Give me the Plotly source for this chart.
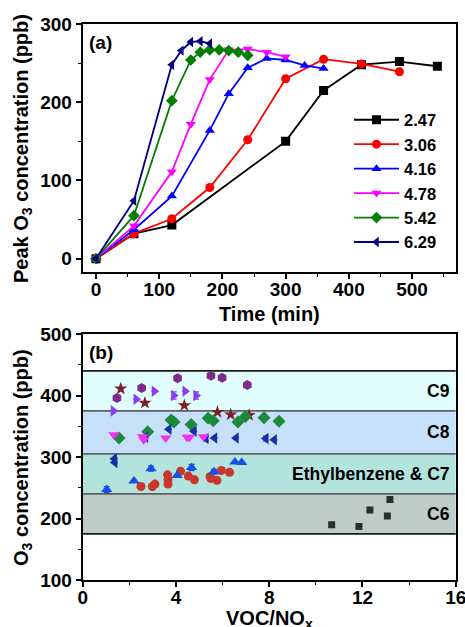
import plotly.graph_objects as go

# ---------------- Panel (a): peak O3 vs time for several VOC/NOx ratios ----------------
ratio_labels = ["2.47", "3.06", "4.16", "4.78", "5.42", "6.29"]

t_247 = [0, 60, 120, 300, 360, 420, 480, 540]
o3_247 = [0, 32, 43, 150, 215, 248, 252, 246]

t_306 = [0, 60, 120, 180, 240, 300, 360, 420, 480]
o3_306 = [0, 32, 51, 91, 152, 230, 255, 249, 239]

t_416 = [0, 60, 120, 180, 210, 240, 270, 300, 330, 360]
o3_416 = [0, 37, 80, 164, 211, 244, 256, 254, 247, 243]

t_478 = [0, 60, 120, 150, 180, 210, 240, 270, 300]
o3_478 = [0, 42, 111, 172, 229, 267, 268, 264, 258]

t_542 = [0, 60, 120, 150, 165, 180, 195, 210, 225, 240]
o3_542 = [0, 55, 202, 254, 264, 267, 267, 266, 264, 260]

t_629 = [0, 60, 120, 135, 150, 165, 180]
o3_629 = [0, 74, 248, 266, 277, 278, 275]

# ---------------- Panel (b): O3 vs VOC/NOx by VOC group ----------------
c9_circle_x = [1.47, 2.53, 4.07, 5.50, 5.98, 7.06]
c9_circle_y = [396, 412, 428, 432, 429, 417]

c9_star_x = [1.63, 2.67, 4.36, 5.78, 6.35, 7.14]
c9_star_y = [411, 388, 384, 373, 369, 368]

c9_tri_x = [1.31, 2.29, 3.07, 3.90, 4.39, 4.86]
c9_tri_y = [375, 394, 407, 400, 407, 400]
c9_tri_err = [0, 0, 0, 6, 0, 6]

c8_diamond_x = [1.56, 2.79, 3.79, 3.92, 4.65, 5.38, 5.60, 6.66, 6.98, 7.78, 8.42]
c8_diamond_y = [331, 341, 360, 357, 353, 363, 359, 357, 366, 364, 358]
c8_diamond_err = [0, 0, 4, 0, 0, 0, 0, 0, 0, 3, 0]

c8_left_x = [1.36, 1.38, 2.70, 3.70, 4.78, 5.29, 5.66, 6.58, 7.86, 8.22]
c8_left_y = [297, 291, 332, 345, 342, 330, 331, 331, 330, 328]
c8_left_err = [0, 0, 0, 0, 0, 4, 0, 0, 4, 0]

c8_down_x = [1.34, 2.58, 2.62, 3.56, 4.48, 4.58, 5.18]
c8_down_y = [336, 333, 328, 331, 332, 332, 333]

c7_circle_x = [2.50, 2.99, 3.10, 3.64, 3.66, 3.66, 4.20, 4.53, 4.79, 5.46, 5.50, 5.76, 5.95, 6.30]
c7_circle_y = [252, 252, 256, 271, 263, 256, 277, 269, 263, 268, 265, 262, 278, 275]

c7_tri_x = [1.03, 2.20, 2.93, 4.05, 4.67, 5.63, 6.53, 6.82]
c7_tri_y = [247, 261, 281, 270, 283, 276, 292, 291]
c7_tri_err = [5, 0, 4, 0, 5, 4, 0, 0]

c6_square_x = [10.68, 11.85, 12.32, 13.07, 13.18]
c6_square_y = [190, 187, 214, 204, 231]

band_names = ["C9", "C8", "Ethylbenzene & C7", "C6"]
band_lo = [375, 305, 240, 175]
band_hi = [440, 375, 305, 240]
band_colors = ["#E1FEFE", "#C7E0FA", "#B2E3DC", "#BECDC8"]

FONT = "Liberation Sans"
W, H = 465, 627

fig = go.Figure()

series_a = [
    (t_247, o3_247, "#000000", "square"),
    (t_306, o3_306, "#FF0000", "circle"),
    (t_416, o3_416, "#0000FF", "triangle-up"),
    (t_478, o3_478, "#FF00FF", "triangle-down"),
    (t_542, o3_542, "#008000", "diamond"),
    (t_629, o3_629, "#000080", "triangle-left"),
]
for (tx, ty, col, sym), name in zip(series_a, ratio_labels):
    fig.add_trace(go.Scatter(
        x=tx, y=ty, name=name, mode="lines+markers",
        line=dict(color=col, width=1.8),
        marker=dict(symbol=sym, size=9, color=col),
        xaxis="x", yaxis="y",
    ))


def scatter_b(x, y, color, symbol, size=9, err=None):
    tr = go.Scatter(
        x=x, y=y, mode="markers", showlegend=False,
        marker=dict(symbol=symbol, size=size, color=color),
        xaxis="x2", yaxis="y2",
    )
    if err is not None:
        tr.error_y = dict(type="data", array=err, visible=True,
                          color=color, thickness=1.2, width=3)
    fig.add_trace(tr)


scatter_b(c9_circle_x, c9_circle_y, "#7E2A8E", "hexagon", 10)
scatter_b(c9_star_x, c9_star_y, "#7A2025", "star", 10)
scatter_b(c9_tri_x, c9_tri_y, "#8A3CF2", "triangle-right", 10, c9_tri_err)
scatter_b(c8_diamond_x, c8_diamond_y, "#1B8A3A", "diamond", 10, c8_diamond_err)
scatter_b(c8_left_x, c8_left_y, "#1530A2", "triangle-left", 10, c8_left_err)
scatter_b(c8_down_x, c8_down_y, "#EC34EC", "triangle-down", 10)
scatter_b(c7_circle_x, c7_circle_y, "#C9372C", "circle", 9)
scatter_b(c7_tri_x, c7_tri_y, "#1650E6", "triangle-up", 10, c7_tri_err)
scatter_b(c6_square_x, c6_square_y, "#24302C", "square", 7)

# Shaded concentration bands
shapes = []
for lo, hi, col in zip(band_lo, band_hi, band_colors):
    shapes.append(dict(type="rect", xref="x2 domain", yref="y2", x0=0, x1=1,
                       y0=lo, y1=hi, fillcolor=col, layer="below",
                       line=dict(width=0)))
for yv in sorted(set(band_lo + band_hi)):
    shapes.append(dict(type="line", xref="x2 domain", yref="y2", x0=0, x1=1,
                       y0=yv, y1=yv, layer="below",
                       line=dict(color="#1a1a1a" if yv in (440, 175) else "#606060",
                                 width=1.6)))

bold = lambda s: dict(family=FONT, size=s, color="black", weight="bold")


def px_x(p):
    return p / W


def px_y(p):
    return 1 - p / H


annotations = [
    dict(text="(a)", xref="x domain", yref="y domain", x=0.012, y=0.975,
         xanchor="left", yanchor="top", showarrow=False, font=bold(19)),
    dict(text="(b)", xref="x2 domain", yref="y2 domain", x=0.012, y=0.975,
         xanchor="left", yanchor="top", showarrow=False, font=bold(19)),
    # axis titles
    dict(text="Time (min)", xref="paper", yref="paper", x=px_x(269), y=px_y(313.5),
         xanchor="center", yanchor="middle", showarrow=False, font=bold(20)),
    dict(text="Peak O<sub>3</sub> concentration (ppb)", xref="paper", yref="paper",
         x=px_x(22), y=px_y(149), textangle=-90, xanchor="center",
         yanchor="middle", showarrow=False, font=bold(20)),
    dict(text="VOC/NO<sub>x</sub>", xref="paper", yref="paper", x=px_x(269),
         y=px_y(619), xanchor="center", yanchor="middle", showarrow=False,
         font=bold(20)),
    dict(text="O<sub>3</sub> concentration (ppb)", xref="paper", yref="paper",
         x=px_x(22), y=px_y(458), textangle=-90, xanchor="center",
         yanchor="middle", showarrow=False, font=bold(20)),
]
for name, lo, hi in zip(band_names, band_lo, band_hi):
    annotations.append(dict(
        text=name, xref="x2 domain", yref="y2", x=0.99, y=(lo + hi) / 2,
        xanchor="right", yanchor="middle", showarrow=False, font=bold(17.5)))

axis_common = dict(
    showline=True, linecolor="black", linewidth=2, mirror=True,
    ticks="outside", ticklen=5, tickwidth=1.5, tickcolor="black",
    showgrid=False, zeroline=False, tickfont=bold(19), automargin=False,
    ticklabeloverflow="allow",
)


def minor(d, t0):
    return dict(ticks="outside", ticklen=3, tickwidth=1.2, tickcolor="black",
                dtick=d, tick0=t0)


fig.update_layout(
    width=W, height=H,
    margin=dict(l=0, r=0, t=0, b=0, autoexpand=False),
    paper_bgcolor="white", plot_bgcolor="white",
    font=dict(family=FONT, color="black"),
    shapes=shapes, annotations=annotations,
    xaxis=dict(domain=[px_x(82.7), px_x(455.7)], anchor="y", range=[-21, 569],
               tickvals=[0, 100, 200, 300, 400, 500], minor=minor(50, 0),
               ticklabelstandoff=-6, **axis_common),
    yaxis=dict(domain=[px_y(272), px_y(24)], anchor="x", range=[-17, 300],
               tickvals=[0, 100, 200, 300], minor=minor(50, 0),
               **axis_common),
    xaxis2=dict(domain=[px_x(82.7), px_x(455.7)], anchor="y2", range=[0, 16],
                tickvals=[0, 4, 8, 12, 16], minor=minor(2, 0),
                ticklabelstandoff=-6, **axis_common),
    yaxis2=dict(domain=[px_y(580), px_y(334)], anchor="x2", range=[100, 500],
                tickvals=[100, 200, 300, 400, 500], minor=minor(50, 100),
                **axis_common),
    legend=dict(x=px_x(349), y=px_y(102.5), xanchor="left", yanchor="top",
                bgcolor="rgba(0,0,0,0)", borderwidth=0,
                font=bold(16.5), itemwidth=45, tracegroupgap=0),
)

fig.write_html("out.html")
